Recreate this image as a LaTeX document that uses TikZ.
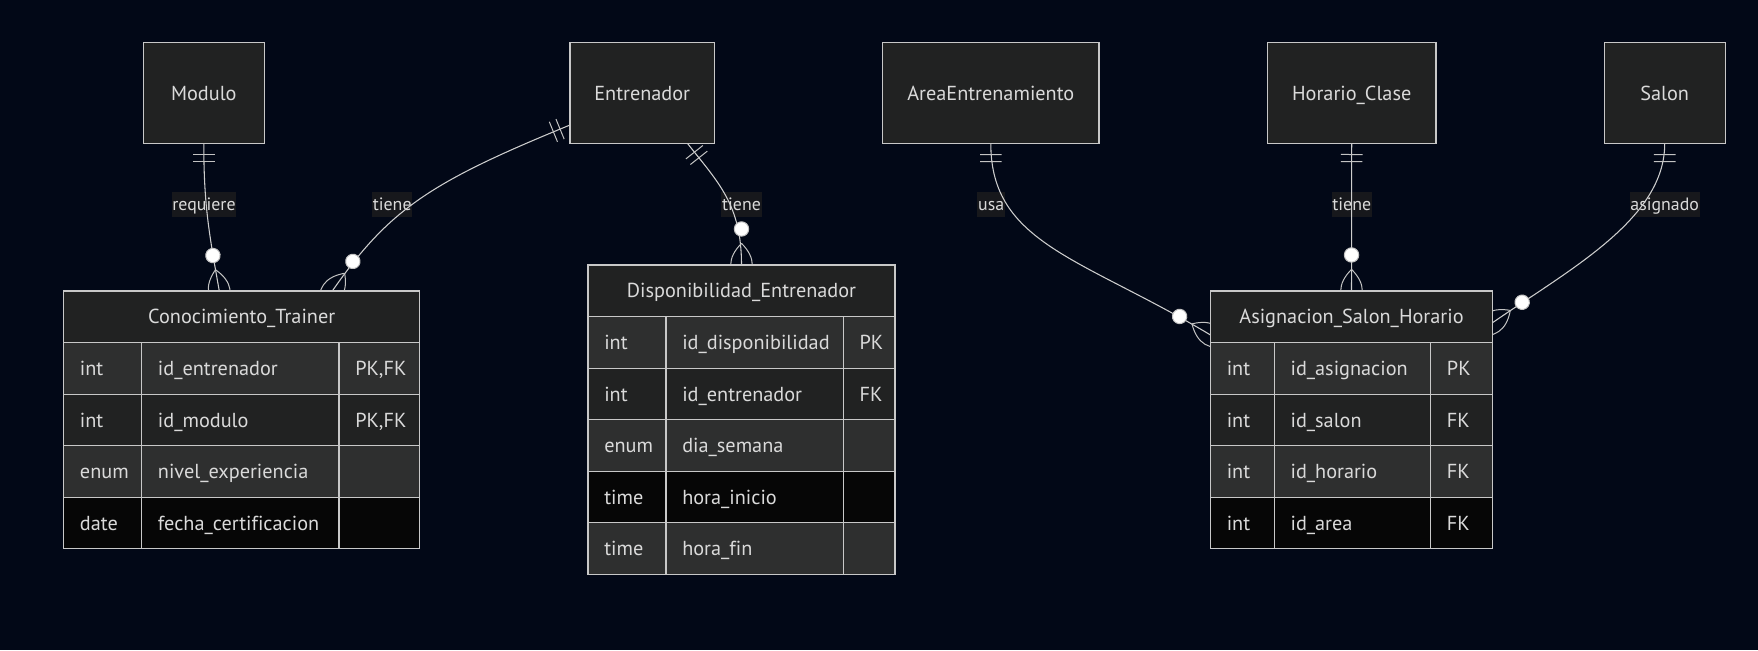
\documentclass[tikz,border=0pt]{standalone}
\usepackage{fontspec}
\setmainfont{PT Sans}[Ligatures=NoCommon]
\usetikzlibrary{calc,decorations.markings}
\pgfdeclarelayer{bglayer}
\pgfdeclarelayer{lbllayer}
\pgfdeclarelayer{edgelayer}
\pgfsetlayers{bglayer,lbllayer,edgelayer,main}
\definecolor{bgc}{RGB}{2,8,23}
\definecolor{boxc}{RGB}{33,34,34}
\definecolor{rowA}{RGB}{46,47,47}
\definecolor{rowB}{RGB}{33,34,34}
\definecolor{rowC}{RGB}{6,6,6}
\definecolor{bordc}{RGB}{200,200,200}
\definecolor{txtc}{RGB}{218,218,218}
\definecolor{edgec}{RGB}{205,205,205}
\definecolor{mkc}{RGB}{195,195,195}
\definecolor{lblc}{RGB}{23,24,28}
\tikzset{
  ent/.style={draw=bordc, fill=boxc, line width=0.9pt, inner sep=0pt, outer sep=0pt,
    minimum height=76.05pt, text=txtc, font=\fontsize{15.2pt}{18pt}\selectfont,
    text height=10.6pt, text depth=0pt},
  tcell/.style={text=txtc, font=\fontsize{15.2pt}{18pt}\selectfont, inner sep=0pt,
    text height=10.6pt, text depth=0pt, anchor=west},
  gridln/.style={draw=bordc, line width=0.9pt},
  lbl/.style={fill=lblc, text=txtc, font=\fontsize{13.4pt}{16pt}\selectfont,
    inner xsep=0.6pt, inner ysep=4.6pt, text height=9.3pt, text depth=0pt},
  mk/.style={draw=mkc, line width=0.75pt},
  rel/.style={draw=edgec, line width=0.8pt, postaction={decorate},
    decoration={markings,
      mark=at position 0 with {\draw[mk] (10.8,-10.8) -- (10.8,10.8) (18,-10.8) -- (18,10.8);},
      mark=at position 0.9999 with {\draw[mk] (-21.6,0) .. controls (-7.2,-14.4) and (7.2,-14.4) .. (21.6,0) .. controls (7.2,14.4) and (-7.2,14.4) .. (-21.6,0);
        \draw[mk,fill=white] (-36,0) circle[radius=5.4pt];}}}
}
\newcommand\ertrow[6]{%
  \fill[#3] (\tXa,#2) rectangle (\tXd,#2+51.5);
  \draw[gridln] (\tXa,#2) rectangle (\tXd,#2+51.5) (\tXb,#2) -- (\tXb,#2+51.5) (\tXc,#2) -- (\tXc,#2+51.5);
  \node[tcell] (#1t) at (\tXa+16,#2+25.75) {#4};
  \node[tcell] (#1f) at (\tXb+16,#2+25.75) {#5};
  \node[tcell] (#1k) at (\tXc+16,#2+25.75) {#6};}
\begin{document}
\begin{tikzpicture}[x=0.75pt,y=-0.75pt]
\useasboundingbox (0,0) rectangle (1758,650);
\begin{pgfonlayer}{bglayer}
\fill[bgc] (0,0) rectangle (1758,650);
\end{pgfonlayer}

% simple entities
\node[ent, minimum width=90.75pt] (mod) at (203.8,93) {Modulo};
\node[ent, minimum width=108.2pt] (entr) at (642.2,93) {Entrenador};
\node[ent, minimum width=162.2pt] (area) at (990.8,93) {AreaEntrenamiento};
\node[ent, minimum width=126.3pt] (hor) at (1351.7,93) {Horario\_Clase};
\node[ent, minimum width=90.7pt] (sal) at (1664.7,93) {Salon};

% Conocimiento_Trainer
\node[ent, minimum width=267pt, minimum height=193.3pt] (ct) at (241.7,419.85) {};
\node[ent, minimum width=267pt, minimum height=38.8pt] (cth) at (241.7,316.85) {Conocimiento\_Trainer};
\def\tXa{63.7}\def\tXb{141.7}\def\tXc{339}\def\tXd{419.7}
\ertrow{ctra}{342.7}{rowA}{int}{id\_entrenador}{PK,FK}
\ertrow{ctrb}{394.2}{rowB}{int}{id\_modulo}{PK,FK}
\ertrow{ctrc}{445.7}{rowA}{enum}{nivel\_experiencia}{}
\ertrow{ctrd}{497.2}{rowC}{date}{fecha\_certificacion}{}

% Disponibilidad_Entrenador
\node[ent, minimum width=230.25pt, minimum height=231.9pt] (dis) at (741.5,419.6) {};
\node[ent, minimum width=230.25pt, minimum height=38.8pt] (dish) at (741.5,290.85) {Disponibilidad\_Entrenador};
\def\tXa{588}\def\tXb{666}\def\tXc{843.3}\def\tXd{895}
\ertrow{dira}{316.7}{rowA}{int}{id\_disponibilidad}{PK}
\ertrow{dirb}{368.2}{rowB}{int}{id\_entrenador}{FK}
\ertrow{dirc}{419.7}{rowA}{enum}{dia\_semana}{}
\ertrow{dird}{471.2}{rowC}{time}{hora\_inicio}{}
\ertrow{dire}{522.7}{rowA}{time}{hora\_fin}{}

% Asignacion_Salon_Horario
\node[ent, minimum width=211.5pt, minimum height=193.3pt] (as) at (1351.5,419.85) {};
\node[ent, minimum width=211.5pt, minimum height=38.8pt] (ash) at (1351.5,316.85) {Asignacion\_Salon\_Horario};
\def\tXa{1210.5}\def\tXb{1274.3}\def\tXc{1430.7}\def\tXd{1492.5}
\ertrow{asra}{342.7}{rowA}{int}{id\_asignacion}{PK}
\ertrow{asrb}{394.2}{rowB}{int}{id\_salon}{FK}
\ertrow{asrc}{445.7}{rowA}{int}{id\_horario}{FK}
\ertrow{asrd}{497.2}{rowC}{int}{id\_area}{FK}

% labels
\begin{pgfonlayer}{lbllayer}
\node[lbl] (l1) at (204,204.7) {requiere};
\node[lbl] (l2) at (392.2,204.7) {tiene};
\node[lbl] (l3) at (741.5,204.7) {tiene};
\node[lbl] (l4) at (991.2,204.7) {usa};
\node[lbl] (l5) at (1351.7,204.7) {tiene};
\node[lbl] (l6) at (1664.7,204.7) {asignado};
\end{pgfonlayer}

% relationships
\begin{pgfonlayer}{edgelayer}
\draw[rel] (mod.south) .. controls +(0,60) and +(-10.6,-59) .. ($(ct.north)+(-22.4,0)$);
\draw[rel] ($(entr.south west)+(0,-18.7)$) .. controls +(-139.5,57) and +(57,-82) .. ($(ct.north)+(90.6,0)$);
\draw[rel] ($(entr.south)+(45.5,0)$) .. controls +(31,39.3) and +(0,-60) .. (dis.north);
\draw[rel] (area.south) .. controls +(0,100) and +(-128.55,-77.1) .. ($(as.north west)+(0,44)$);
\draw[rel] (hor.south) -- (as.north);
\draw[rel] (sal.south) .. controls +(0,75) and +(78.4,-54) .. ($(as.north east)+(0,31.7)$);
\end{pgfonlayer}
\end{tikzpicture}
\end{document}
